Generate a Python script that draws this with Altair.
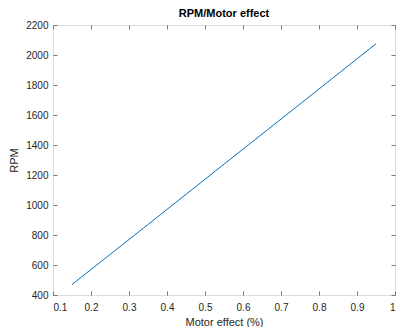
import altair as alt
import pandas as pd

motor_effect = [0.15, 0.35, 0.55, 0.75, 0.95]
rpm = [470, 870, 1272, 1673, 2075]
x_ticks = [0.1, 0.2, 0.3, 0.4, 0.5, 0.6, 0.7, 0.8, 0.9, 1.0]
y_ticks = [400, 600, 800, 1000, 1200, 1400, 1600, 1800, 2000, 2200]

df = pd.DataFrame({"x": motor_effect, "y": rpm})

FONT = "Liberation Sans"
AXC = "#777777"
LBL = "#262626"

xs = alt.Scale(domain=[0.1, 1.0], nice=False, zero=False)
ys = alt.Scale(domain=[400, 2200], nice=False, zero=False)

def tick_axis(orient):
    return alt.Axis(orient=orient, values=x_ticks if orient in ("top", "bottom") else y_ticks,
                    labels=False, domain=False, grid=False, ticks=True, tickSize=4,
                    offset=-4, tickColor=AXC, tickWidth=1, title=None)

base = alt.Chart(df)

main = base.mark_line(color="#0072BD", strokeWidth=1).encode(
    x=alt.X("x:Q", scale=xs, axis=alt.Axis(orient="bottom", values=x_ticks, format="~g",
            title="Motor effect (%)", ticks=False, domain=False, grid=False,
            labelPadding=7, labelFont=FONT, labelFontSize=10, labelColor=LBL,
            titleFont=FONT, titleFontSize=11, titleFontWeight="normal", titleColor=LBL,
            titlePadding=4)),
    y=alt.Y("y:Q", scale=ys, axis=alt.Axis(orient="left", values=y_ticks, format="d",
            title="RPM", ticks=False, domain=False, grid=False,
            labelPadding=5, labelFont=FONT, labelFontSize=10, labelColor=LBL,
            titleFont=FONT, titleFontSize=11, titleFontWeight="normal", titleColor=LBL,
            titlePadding=6)),
)

ticks_bl = base.mark_line(opacity=0).encode(
    x=alt.X("x:Q", scale=xs, axis=tick_axis("bottom")),
    y=alt.Y("y:Q", scale=ys, axis=tick_axis("left")),
)
ticks_tr = base.mark_line(opacity=0).encode(
    x=alt.X("x:Q", scale=xs, axis=tick_axis("top")),
    y=alt.Y("y:Q", scale=ys, axis=tick_axis("right")),
)

chart = alt.layer(main, ticks_bl, ticks_tr).resolve_axis(
    x="independent", y="independent"
).properties(
    width=342, height=270,
    title=alt.Title("RPM/Motor effect", font=FONT, fontSize=11, fontWeight="bold",
                    color="#000000", anchor="middle", offset=1),
    autosize=alt.AutoSizeParams(type="none"),
    padding={"left": 53, "top": 25, "right": 1, "bottom": 32},
).configure_view(stroke=AXC, strokeWidth=1).configure(background="white")

chart.save("out.html", embed_options={"renderer": "svg", "actions": False})
